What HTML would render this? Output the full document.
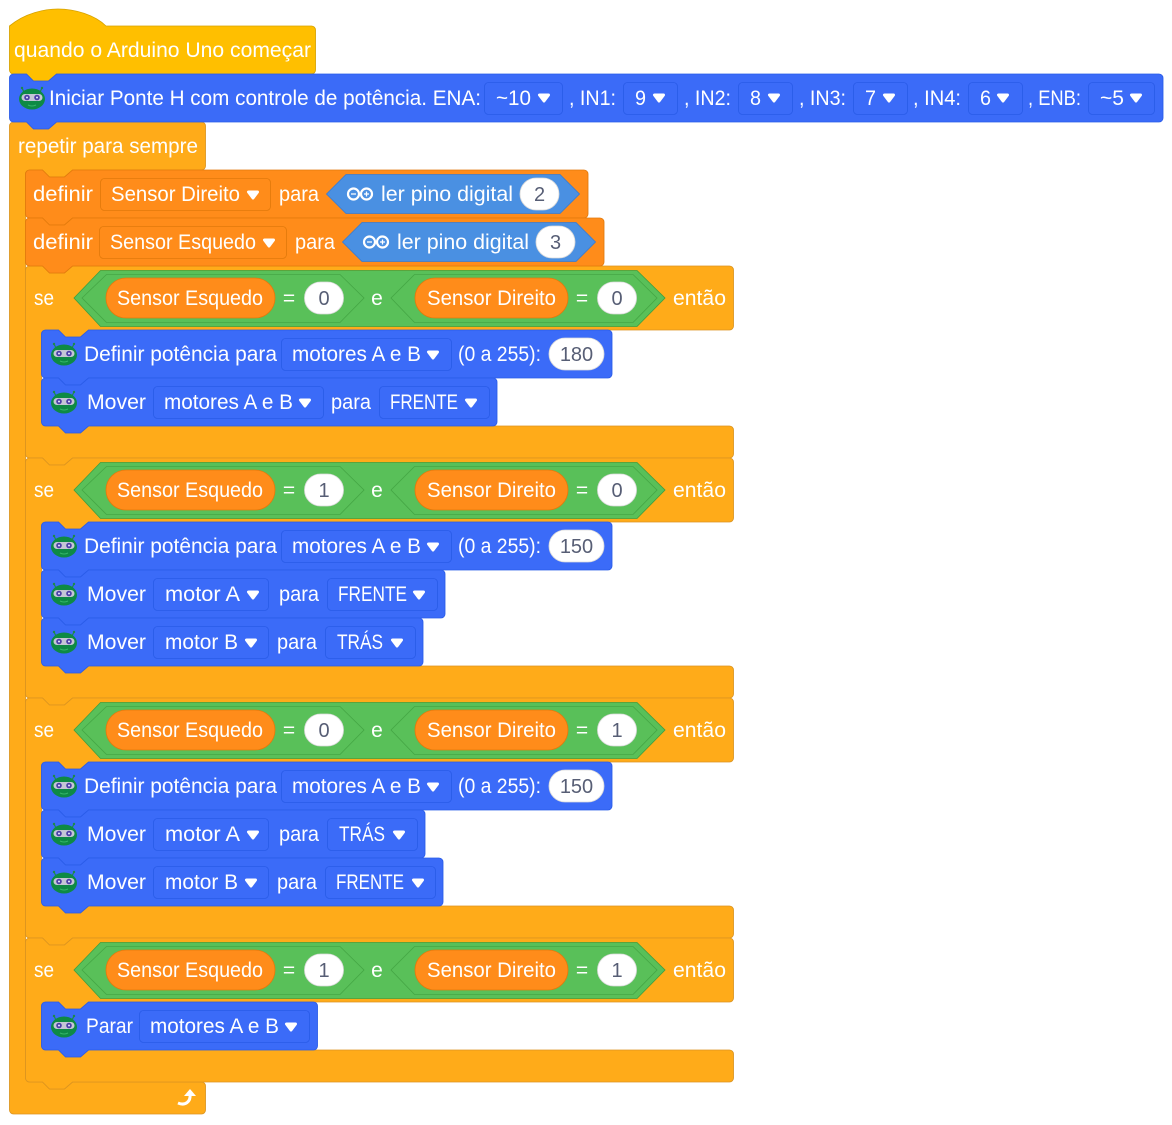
<!DOCTYPE html>
<html><head><meta charset="utf-8"><style>
html,body{margin:0;padding:0;background:#fff}
svg{display:block}
text{font-family:"Liberation Sans","Noto Sans CJK SC",sans-serif;font-size:21px;fill:#fff}
text.n{fill:#575E75;text-anchor:middle;font-size:20px}
text.m{text-anchor:middle}
.y,.o,.b,.g,.gi,.a,.p,.h{stroke-width:.85}
.y{fill:#FFAB19;stroke:#DB9420}
.o{fill:#FF8C1A;stroke:#E27A0C}
.b{fill:#3B6BF8;stroke:#2A5CE8}
.g{fill:#59C059;stroke:#3F9F3F}
.gi{fill:#59C059;stroke:#45A645}
.a{fill:#4A90E2;stroke:#3A7BD0}
.p{fill:#fff;stroke:#DADADA}
.h{fill:#FFBF00;stroke:#D6A200}
</style></head><body>
<svg width="1172" height="1125" viewBox="0 0 1172 1125" xmlns="http://www.w3.org/2000/svg">
<defs>
<g id="c"><path d="M-4.5-3H4.5L0 3Z" fill="#fff" stroke="#fff" stroke-width="3" stroke-linejoin="round"/></g>
<g id="r">
<path d="M-8-7L-10-11M8-7L10-11" stroke="#1c8a4a" stroke-width="1.2" fill="none"/>
<circle cx="-10" cy="-11" r="1.2" fill="#1c8a4a"/><circle cx="10" cy="-11" r="1.2" fill="#1c8a4a"/>
<ellipse cx="0" cy="0" rx="13" ry="10.500" fill="#0E8A45"/>
<rect x="-10.500" y="-5" width="21" height="7" rx="3.500" fill="#C4C6D6" stroke="none"/>
<circle cx="-5" cy="-1.500" r="2.800" fill="#4B3FA8"/><circle cx="5" cy="-1.500" r="2.800" fill="#4B3FA8"/>
<circle cx="-5" cy="-1.500" r="1" fill="#E8E8FF"/><circle cx="5" cy="-1.500" r="1" fill="#E8E8FF"/>
<path d="M-4 6Q0 8 4 6" stroke="#35b56b" stroke-width="1" fill="none"/>
</g>
<g id="ard" fill="none" stroke="#fff">
<circle cx="-6.500" cy="0" r="5.500" stroke-width="2.200"/><circle cx="6.500" cy="0" r="5.500" stroke-width="2.200"/>
<path d="M-9 0H-4M4 0H9M6.500-2.500V2.500" stroke-width="1.300"/>
</g>
</defs>

<!-- forever -->
<path class="y" d="M9.5 126a4 4 0 0 1 4-4h13l7 7h15l8-7H201.5a4 4 0 0 1 4 4V166a4 4 0 0 1-4 4H72.5l-8 7h-15l-7-7H29.5a4 4 0 0 0-4 4V1078a4 4 0 0 0 4 4H42.5l7 7h15l8-7H201.5a4 4 0 0 1 4 4V1110a4 4 0 0 1-4 4H13.5a4 4 0 0 1-4-4Z"/>
<text x="18" y="153" textLength="180" lengthAdjust="spacingAndGlyphs">repetir para sempre</text>
<path d="M178 1103C185 1106 191 1102 190 1094" fill="none" stroke="#fff" stroke-width="3"/>
<path d="M184 1096L190 1089L196 1096Z" fill="#fff"/>

<!-- hat -->
<path class="h" d="M9.5 26C25 13 45 9 58 9C75 9 95 15 106 26H311.5a4 4 0 0 1 4 4V70a4 4 0 0 1-4 4H56.5l-8 7h-15l-7-7H13.5a4 4 0 0 1-4-4Z"/>
<text x="14" y="57" textLength="297" lengthAdjust="spacingAndGlyphs">quando o Arduino Uno começar</text>

<!-- init -->
<path class="b" d="M9.5 78a4 4 0 0 1 4-4h13l7 7h15l8-7h1102.500a4 4 0 0 1 4 4v40a4 4 0 0 1-4 4H56.5l-8 7h-15l-7-7H13.5a4 4 0 0 1-4-4Z"/>
<use href="#r" x="32" y="99"/>
<text x="49" y="105" textLength="432" lengthAdjust="spacingAndGlyphs">Iniciar Ponte H com controle de potência. ENA:</text>
<rect class="b" x="484.5" y="82.5" width="78" height="32" rx="4"/><text x="496" y="105" textLength="35" lengthAdjust="spacingAndGlyphs">~10</text><use href="#c" x="544" y="98"/>
<text x="569" y="105" textLength="47" lengthAdjust="spacingAndGlyphs">, IN1:</text>
<rect class="b" x="623.5" y="82.5" width="54" height="32" rx="4"/><text x="635" y="105" textLength="11" lengthAdjust="spacingAndGlyphs">9</text><use href="#c" x="659" y="98"/>
<text x="684" y="105" textLength="47" lengthAdjust="spacingAndGlyphs">, IN2:</text>
<rect class="b" x="738.5" y="82.5" width="54" height="32" rx="4"/><text x="750" y="105" textLength="11" lengthAdjust="spacingAndGlyphs">8</text><use href="#c" x="774" y="98"/>
<text x="799" y="105" textLength="47" lengthAdjust="spacingAndGlyphs">, IN3:</text>
<rect class="b" x="853.5" y="82.5" width="54" height="32" rx="4"/><text x="865" y="105" textLength="11" lengthAdjust="spacingAndGlyphs">7</text><use href="#c" x="889" y="98"/>
<text x="913" y="105" textLength="48" lengthAdjust="spacingAndGlyphs">, IN4:</text>
<rect class="b" x="968.5" y="82.5" width="54" height="32" rx="4"/><text x="980" y="105" textLength="11" lengthAdjust="spacingAndGlyphs">6</text><use href="#c" x="1003" y="98"/>
<text x="1028" y="105" textLength="53" lengthAdjust="spacingAndGlyphs">, ENB:</text>
<rect class="b" x="1088.5" y="82.5" width="66" height="32" rx="4"/><text x="1100" y="105" textLength="24" lengthAdjust="spacingAndGlyphs">~5</text><use href="#c" x="1136" y="98"/>

<!-- if blocks -->
<g transform="translate(25.5 266)"><path class="y" d="M0 4a4 4 0 0 1 4-4h13l7 7h15l8-7H704a4 4 0 0 1 4 4V60a4 4 0 0 1-4 4H63l-8 7h-15l-7-7H20a4 4 0 0 0-4 4V156a4 4 0 0 0 4 4H33l7 7h15l8-7H704a4 4 0 0 1 4 4V188a4 4 0 0 1-4 4H47l-8 7h-15l-7-7H4a4 4 0 0 1-4-4Z"/></g>
<g transform="translate(25.5 458)"><path class="y" d="M0 4a4 4 0 0 1 4-4h13l7 7h15l8-7H704a4 4 0 0 1 4 4V60a4 4 0 0 1-4 4H63l-8 7h-15l-7-7H20a4 4 0 0 0-4 4V204a4 4 0 0 0 4 4H33l7 7h15l8-7H704a4 4 0 0 1 4 4V236a4 4 0 0 1-4 4H47l-8 7h-15l-7-7H4a4 4 0 0 1-4-4Z"/></g>
<g transform="translate(25.5 698)"><path class="y" d="M0 4a4 4 0 0 1 4-4h13l7 7h15l8-7H704a4 4 0 0 1 4 4V60a4 4 0 0 1-4 4H63l-8 7h-15l-7-7H20a4 4 0 0 0-4 4V204a4 4 0 0 0 4 4H33l7 7h15l8-7H704a4 4 0 0 1 4 4V236a4 4 0 0 1-4 4H47l-8 7h-15l-7-7H4a4 4 0 0 1-4-4Z"/></g>
<g transform="translate(25.5 938)"><path class="y" d="M0 4a4 4 0 0 1 4-4h13l7 7h15l8-7H704a4 4 0 0 1 4 4V60a4 4 0 0 1-4 4H63l-8 7h-15l-7-7H20a4 4 0 0 0-4 4V108a4 4 0 0 0 4 4H33l7 7h15l8-7H704a4 4 0 0 1 4 4V140a4 4 0 0 1-4 4H47l-8 7h-15l-7-7H4a4 4 0 0 1-4-4Z"/></g>

<!-- definir 1 -->
<path class="o" d="M25.5 174a4 4 0 0 1 4-4h13l7 7h15l8-7H584a4 4 0 0 1 4 4v40a4 4 0 0 1-4 4H72.5l-8 7h-15l-7-7H29.5a4 4 0 0 1-4-4Z"/>
<text x="33" y="201" textLength="60" lengthAdjust="spacingAndGlyphs">definir</text>
<rect class="o" x="100.5" y="178.5" width="170" height="32" rx="4"/>
<text x="111" y="201" textLength="129" lengthAdjust="spacingAndGlyphs">Sensor Direito</text><use href="#c" x="253" y="195"/>
<text x="279" y="201" textLength="40" lengthAdjust="spacingAndGlyphs">para</text>
<path class="a" d="M326.5 194L346 174.5H560L579.5 194L560 213.5H346Z"/>
<use href="#ard" x="360" y="194"/>
<text x="381" y="201" textLength="132" lengthAdjust="spacingAndGlyphs">ler pino digital</text>
<rect class="p" x="520" y="178" width="39" height="32" rx="16"/><text class="n" x="539.5" y="201">2</text>

<!-- definir 2 -->
<path class="o" d="M25.5 222a4 4 0 0 1 4-4h13l7 7h15l8-7H600a4 4 0 0 1 4 4v40a4 4 0 0 1-4 4H72.5l-8 7h-15l-7-7H29.5a4 4 0 0 1-4-4Z"/>
<text x="33" y="249" textLength="60" lengthAdjust="spacingAndGlyphs">definir</text>
<rect class="o" x="99.5" y="226.5" width="187" height="32" rx="4"/>
<text x="110" y="249" textLength="146" lengthAdjust="spacingAndGlyphs">Sensor Esquedo</text><use href="#c" x="269" y="243"/>
<text x="295" y="249" textLength="40" lengthAdjust="spacingAndGlyphs">para</text>
<path class="a" d="M342.5 242L362 222.5H576L595.5 242L576 261.5H362Z"/>
<use href="#ard" x="376" y="242"/>
<text x="397" y="249" textLength="132" lengthAdjust="spacingAndGlyphs">ler pino digital</text>
<rect class="p" x="536" y="226" width="39" height="32" rx="16"/><text class="n" x="555.5" y="249">3</text>

<!-- conditions 1 -->
<text x="34" y="305" textLength="20" lengthAdjust="spacingAndGlyphs">se</text>
<path class="g" d="M74 298L100.500 270.500H637L665 298L637 326.500H100.500Z"/>
<path class="gi" d="M82 298L106.500 274.500H340L364 298L340 322.500H106.500Z"/>
<path class="gi" d="M391 298L414.500 274.500H633L657 298L633 322.500H414.500Z"/>
<rect class="o" x="106" y="278" width="169" height="40" rx="20"/><text x="117" y="305" textLength="146" lengthAdjust="spacingAndGlyphs">Sensor Esquedo</text>
<text class="m" x="289" y="305">=</text>
<rect class="p" x="304.500" y="282" width="39" height="32" rx="16"/><text class="n" x="324" y="305">0</text>
<text class="m" x="377" y="305">e</text>
<rect class="o" x="415" y="278" width="153" height="40" rx="20"/><text x="427" y="305" textLength="129" lengthAdjust="spacingAndGlyphs">Sensor Direito</text>
<text class="m" x="582" y="305">=</text>
<rect class="p" x="597.500" y="282" width="39" height="32" rx="16"/><text class="n" x="617" y="305">0</text>
<text x="673" y="305" textLength="53" lengthAdjust="spacingAndGlyphs">então</text>

<!-- conditions 2 -->
<text x="34" y="497" textLength="20" lengthAdjust="spacingAndGlyphs">se</text>
<path class="g" d="M74 490L100.500 462.500H637L665 490L637 518.500H100.500Z"/>
<path class="gi" d="M82 490L106.500 466.500H340L364 490L340 514.500H106.500Z"/>
<path class="gi" d="M391 490L414.500 466.500H633L657 490L633 514.500H414.500Z"/>
<rect class="o" x="106" y="470" width="169" height="40" rx="20"/><text x="117" y="497" textLength="146" lengthAdjust="spacingAndGlyphs">Sensor Esquedo</text>
<text class="m" x="289" y="497">=</text>
<rect class="p" x="304.500" y="474" width="39" height="32" rx="16"/><text class="n" x="324" y="497">1</text>
<text class="m" x="377" y="497">e</text>
<rect class="o" x="415" y="470" width="153" height="40" rx="20"/><text x="427" y="497" textLength="129" lengthAdjust="spacingAndGlyphs">Sensor Direito</text>
<text class="m" x="582" y="497">=</text>
<rect class="p" x="597.500" y="474" width="39" height="32" rx="16"/><text class="n" x="617" y="497">0</text>
<text x="673" y="497" textLength="53" lengthAdjust="spacingAndGlyphs">então</text>

<!-- conditions 3 -->
<text x="34" y="737" textLength="20" lengthAdjust="spacingAndGlyphs">se</text>
<path class="g" d="M74 730L100.500 702.500H637L665 730L637 758.500H100.500Z"/>
<path class="gi" d="M82 730L106.500 706.500H340L364 730L340 754.500H106.500Z"/>
<path class="gi" d="M391 730L414.500 706.500H633L657 730L633 754.500H414.500Z"/>
<rect class="o" x="106" y="710" width="169" height="40" rx="20"/><text x="117" y="737" textLength="146" lengthAdjust="spacingAndGlyphs">Sensor Esquedo</text>
<text class="m" x="289" y="737">=</text>
<rect class="p" x="304.500" y="714" width="39" height="32" rx="16"/><text class="n" x="324" y="737">0</text>
<text class="m" x="377" y="737">e</text>
<rect class="o" x="415" y="710" width="153" height="40" rx="20"/><text x="427" y="737" textLength="129" lengthAdjust="spacingAndGlyphs">Sensor Direito</text>
<text class="m" x="582" y="737">=</text>
<rect class="p" x="597.500" y="714" width="39" height="32" rx="16"/><text class="n" x="617" y="737">1</text>
<text x="673" y="737" textLength="53" lengthAdjust="spacingAndGlyphs">então</text>

<!-- conditions 4 -->
<text x="34" y="977" textLength="20" lengthAdjust="spacingAndGlyphs">se</text>
<path class="g" d="M74 970L100.500 942.500H637L665 970L637 998.500H100.500Z"/>
<path class="gi" d="M82 970L106.500 946.500H340L364 970L340 994.500H106.500Z"/>
<path class="gi" d="M391 970L414.500 946.500H633L657 970L633 994.500H414.500Z"/>
<rect class="o" x="106" y="950" width="169" height="40" rx="20"/><text x="117" y="977" textLength="146" lengthAdjust="spacingAndGlyphs">Sensor Esquedo</text>
<text class="m" x="289" y="977">=</text>
<rect class="p" x="304.500" y="954" width="39" height="32" rx="16"/><text class="n" x="324" y="977">1</text>
<text class="m" x="377" y="977">e</text>
<rect class="o" x="415" y="950" width="153" height="40" rx="20"/><text x="427" y="977" textLength="129" lengthAdjust="spacingAndGlyphs">Sensor Direito</text>
<text class="m" x="582" y="977">=</text>
<rect class="p" x="597.500" y="954" width="39" height="32" rx="16"/><text class="n" x="617" y="977">1</text>
<text x="673" y="977" textLength="53" lengthAdjust="spacingAndGlyphs">então</text>

<!-- if 1 body -->
<path class="b" d="M41.500 334a4 4 0 0 1 4-4h13l7 7h15l8-7h519.500a4 4 0 0 1 4 4v40a4 4 0 0 1-4 4H88.500l-8 7h-15l-7-7H45.500a4 4 0 0 1-4-4Z"/>
<use href="#r" x="64" y="355"/>
<text x="84" y="361" textLength="193" lengthAdjust="spacingAndGlyphs">Definir potência para</text>
<rect class="b" x="281.500" y="338.500" width="170" height="32" rx="4"/><text x="292" y="361" textLength="129" lengthAdjust="spacingAndGlyphs">motores A e B</text><use href="#c" x="433" y="355"/>
<text x="458" y="361" textLength="83" lengthAdjust="spacingAndGlyphs">(0 a 255):</text>
<rect class="p" x="549" y="338" width="55" height="32" rx="16"/><text class="n" x="576.500" y="361">180</text>

<path class="b" d="M41.500 382a4 4 0 0 1 4-4h13l7 7h15l8-7h404.500a4 4 0 0 1 4 4v40a4 4 0 0 1-4 4H88.500l-8 7h-15l-7-7H45.500a4 4 0 0 1-4-4Z"/>
<use href="#r" x="64" y="403"/>
<text x="87" y="409" textLength="59" lengthAdjust="spacingAndGlyphs">Mover</text>
<rect class="b" x="153.500" y="386.500" width="170" height="32" rx="4"/><text x="164" y="409" textLength="129" lengthAdjust="spacingAndGlyphs">motores A e B</text><use href="#c" x="305" y="403"/>
<text x="331" y="409" textLength="40" lengthAdjust="spacingAndGlyphs">para</text>
<rect class="b" x="379.500" y="386.500" width="110" height="32" rx="4"/><text x="390" y="409" textLength="68" lengthAdjust="spacingAndGlyphs">FRENTE</text><use href="#c" x="471" y="403"/>

<!-- if 2 body -->
<path class="b" d="M41.500 526a4 4 0 0 1 4-4h13l7 7h15l8-7h519.500a4 4 0 0 1 4 4v40a4 4 0 0 1-4 4H88.500l-8 7h-15l-7-7H45.500a4 4 0 0 1-4-4Z"/>
<use href="#r" x="64" y="547"/>
<text x="84" y="553" textLength="193" lengthAdjust="spacingAndGlyphs">Definir potência para</text>
<rect class="b" x="281.500" y="530.500" width="170" height="32" rx="4"/><text x="292" y="553" textLength="129" lengthAdjust="spacingAndGlyphs">motores A e B</text><use href="#c" x="433" y="547"/>
<text x="458" y="553" textLength="83" lengthAdjust="spacingAndGlyphs">(0 a 255):</text>
<rect class="p" x="549" y="530" width="55" height="32" rx="16"/><text class="n" x="576.500" y="553">150</text>

<path class="b" d="M41.500 574a4 4 0 0 1 4-4h13l7 7h15l8-7h352.500a4 4 0 0 1 4 4v40a4 4 0 0 1-4 4H88.500l-8 7h-15l-7-7H45.500a4 4 0 0 1-4-4Z"/>
<use href="#r" x="64" y="595"/>
<text x="87" y="601" textLength="59" lengthAdjust="spacingAndGlyphs">Mover</text>
<rect class="b" x="153.500" y="578.500" width="115" height="32" rx="4"/><text x="165" y="601" textLength="75" lengthAdjust="spacingAndGlyphs">motor A</text><use href="#c" x="253" y="595"/>
<text x="279" y="601" textLength="40" lengthAdjust="spacingAndGlyphs">para</text>
<rect class="b" x="327.500" y="578.500" width="110" height="32" rx="4"/><text x="338" y="601" textLength="69" lengthAdjust="spacingAndGlyphs">FRENTE</text><use href="#c" x="419" y="595"/>

<path class="b" d="M41.500 622a4 4 0 0 1 4-4h13l7 7h15l8-7h330.500a4 4 0 0 1 4 4v40a4 4 0 0 1-4 4H88.500l-8 7h-15l-7-7H45.500a4 4 0 0 1-4-4Z"/>
<use href="#r" x="64" y="643"/>
<text x="87" y="649" textLength="59" lengthAdjust="spacingAndGlyphs">Mover</text>
<rect class="b" x="153.500" y="626.500" width="115" height="32" rx="4"/><text x="165" y="649" textLength="73" lengthAdjust="spacingAndGlyphs">motor B</text><use href="#c" x="251" y="643"/>
<text x="277" y="649" textLength="40" lengthAdjust="spacingAndGlyphs">para</text>
<rect class="b" x="325.500" y="626.500" width="90" height="32" rx="4"/><text x="337" y="649" textLength="46" lengthAdjust="spacingAndGlyphs">TRÁS</text><use href="#c" x="397" y="643"/>

<!-- if 3 body -->
<path class="b" d="M41.500 766a4 4 0 0 1 4-4h13l7 7h15l8-7h519.500a4 4 0 0 1 4 4v40a4 4 0 0 1-4 4H88.500l-8 7h-15l-7-7H45.500a4 4 0 0 1-4-4Z"/>
<use href="#r" x="64" y="787"/>
<text x="84" y="793" textLength="193" lengthAdjust="spacingAndGlyphs">Definir potência para</text>
<rect class="b" x="281.500" y="770.500" width="170" height="32" rx="4"/><text x="292" y="793" textLength="129" lengthAdjust="spacingAndGlyphs">motores A e B</text><use href="#c" x="433" y="787"/>
<text x="458" y="793" textLength="83" lengthAdjust="spacingAndGlyphs">(0 a 255):</text>
<rect class="p" x="549" y="770" width="55" height="32" rx="16"/><text class="n" x="576.500" y="793">150</text>

<path class="b" d="M41.500 814a4 4 0 0 1 4-4h13l7 7h15l8-7h332.500a4 4 0 0 1 4 4v40a4 4 0 0 1-4 4H88.500l-8 7h-15l-7-7H45.500a4 4 0 0 1-4-4Z"/>
<use href="#r" x="64" y="835"/>
<text x="87" y="841" textLength="59" lengthAdjust="spacingAndGlyphs">Mover</text>
<rect class="b" x="153.500" y="818.500" width="115" height="32" rx="4"/><text x="165" y="841" textLength="75" lengthAdjust="spacingAndGlyphs">motor A</text><use href="#c" x="253" y="835"/>
<text x="279" y="841" textLength="40" lengthAdjust="spacingAndGlyphs">para</text>
<rect class="b" x="327.500" y="818.500" width="90" height="32" rx="4"/><text x="339" y="841" textLength="46" lengthAdjust="spacingAndGlyphs">TRÁS</text><use href="#c" x="399" y="835"/>

<path class="b" d="M41.500 862a4 4 0 0 1 4-4h13l7 7h15l8-7h350.500a4 4 0 0 1 4 4v40a4 4 0 0 1-4 4H88.500l-8 7h-15l-7-7H45.500a4 4 0 0 1-4-4Z"/>
<use href="#r" x="64" y="883"/>
<text x="87" y="889" textLength="59" lengthAdjust="spacingAndGlyphs">Mover</text>
<rect class="b" x="153.500" y="866.500" width="115" height="32" rx="4"/><text x="165" y="889" textLength="73" lengthAdjust="spacingAndGlyphs">motor B</text><use href="#c" x="251" y="883"/>
<text x="277" y="889" textLength="40" lengthAdjust="spacingAndGlyphs">para</text>
<rect class="b" x="325.500" y="866.500" width="110" height="32" rx="4"/><text x="336" y="889" textLength="68" lengthAdjust="spacingAndGlyphs">FRENTE</text><use href="#c" x="418" y="883"/>

<!-- if 4 body -->
<path class="b" d="M41.500 1006a4 4 0 0 1 4-4h13l7 7h15l8-7h225a4 4 0 0 1 4 4v40a4 4 0 0 1-4 4H88.500l-8 7h-15l-7-7H45.500a4 4 0 0 1-4-4Z"/>
<use href="#r" x="64" y="1027"/>
<text x="86" y="1033" textLength="47" lengthAdjust="spacingAndGlyphs">Parar</text>
<rect class="b" x="139.500" y="1010.500" width="170" height="32" rx="4"/><text x="150" y="1033" textLength="129" lengthAdjust="spacingAndGlyphs">motores A e B</text><use href="#c" x="291" y="1027"/>
</svg>
</body></html>
